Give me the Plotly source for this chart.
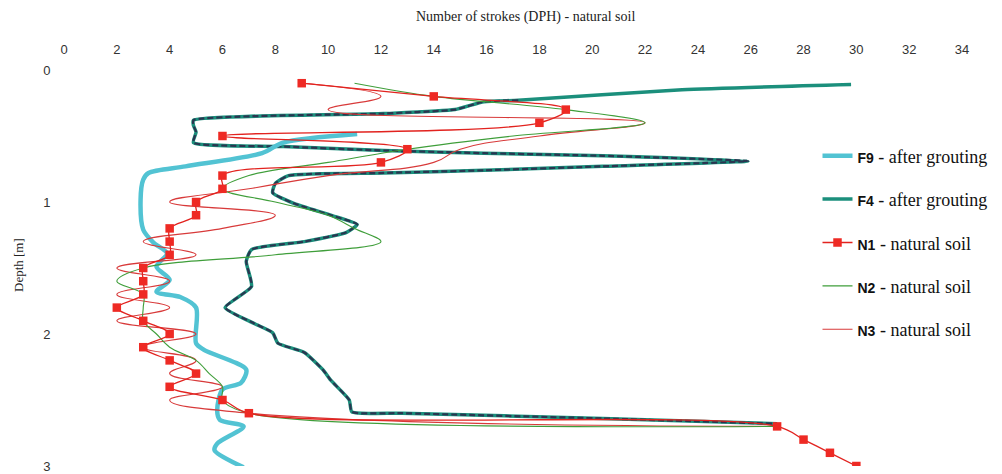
import plotly.graph_objects as go

# ---------------- data ----------------
# N1 - natural soil (markers every 0.1 m)
n1_depth = [0.1, 0.2, 0.3, 0.4, 0.5, 0.6, 0.7, 0.8, 0.9, 1.0, 1.1, 1.2, 1.3, 1.4, 1.5,
            1.6, 1.7, 1.8, 1.9, 2.0, 2.1, 2.2, 2.3, 2.4, 2.5, 2.6, 2.7, 2.8, 2.9, 3.0]
n1_strokes = [9, 14, 19, 18, 6, 13, 12, 6, 6, 5, 5, 4, 4, 4, 3,
              3, 3, 2, 3, 4, 3, 4, 5, 4, 6, 7, 27, 28, 29, 30]

# N2 - natural soil
n2_depth = [0.1, 0.2, 0.3, 0.4, 0.5, 0.6, 0.7, 0.8, 0.9, 1.0, 1.1, 1.2, 1.3, 1.4,
            1.5, 1.6, 1.7, 1.8, 1.9, 2.0, 2.1, 2.2, 2.3, 2.4, 2.5, 2.6, 2.7]
n2_strokes = [11, 14, 19, 22, 17, 13, 10, 7, 6, 8, 10, 11, 12, 8,
              3, 2, 3, 3, 3, 3.5, 4, 5, 5.5, 6, 6, 7, 27]

# N3 - natural soil
n3_depth = [0.1, 0.2, 0.3, 0.4, 0.5, 0.6, 0.7, 0.8, 0.9, 1.0, 1.1, 1.2, 1.3, 1.4,
            1.5, 1.6, 1.7, 1.8, 1.9, 2.0, 2.1, 2.2, 2.3, 2.4, 2.5, 2.6, 2.7]
n3_strokes = [9, 12, 10, 22, 18, 15, 14, 10, 7, 4, 8, 6, 3, 5,
              2, 4, 2, 4, 2, 5, 3, 5, 4, 6, 4, 7, 27]

# F4 - after grouting
f4_strokes = [29.8, 23.4, 17.2, 15.9, 14.8, 12.1, 4.9, 4.9, 5.0, 4.9, 8.3, 12.1, 15.9,
              20.4, 25.9, 20.4, 15.9, 12.1, 8.5, 8.0, 7.9, 8.7, 10.1, 11.1, 10.7, 9.1,
              7.1, 6.9, 7.1, 6.1, 7.2, 7.9, 8.1, 9.1, 9.8, 10.1, 10.8, 10.9, 12.8, 20.4, 27.0]
f4_depth = [0.11, 0.15, 0.23, 0.24, 0.30, 0.33, 0.38, 0.42, 0.47, 0.55, 0.58, 0.61, 0.63,
            0.65, 0.69, 0.73, 0.76, 0.78, 0.80, 0.86, 0.93, 1.01, 1.10, 1.17, 1.23, 1.30,
            1.36, 1.45, 1.64, 1.80, 1.92, 1.99, 2.07, 2.14, 2.27, 2.35, 2.50, 2.59, 2.60, 2.64, 2.68]

# F9 - after grouting
f9_strokes = [11.1, 8.3, 7.5, 4.6, 3.2, 3.0, 2.9, 3.0, 3.4, 3.9, 3.5, 4.0, 3.5, 4.4,
              5.0, 5.0, 5.3, 6.9, 6.7, 6.0, 5.8, 5.9, 6.8, 5.8, 5.7, 6.8]
f9_depth = [0.485, 0.55, 0.63, 0.73, 0.78, 0.83, 0.98, 1.21, 1.31, 1.39, 1.49, 1.59, 1.68, 1.72,
            1.80, 2.07, 2.12, 2.27, 2.37, 2.42, 2.58, 2.65, 2.70, 2.83, 2.88, 3.01]

x_ticks = list(range(0, 36, 2))
y_ticks = [0, 1, 2, 3]

SERIF = "Liberation Serif, Times New Roman, serif"
SANS = "Liberation Sans, Arial, sans-serif"


def lab(code, rest):
    return (f'<span style="font-family:{SANS};font-size:14px"><b>{code}</b></span>'
            f' - {rest}')


fig = go.Figure()

# F4 base (teal) + dark mottled overlay
fig.add_trace(go.Scatter(
    x=f4_strokes, y=f4_depth, mode="lines", name=lab("F4", "after grouting"),
    line=dict(color="#1b8f7c", width=3.5, shape="spline", smoothing=0.5),
    legendrank=2, legendgroup="f4"))
fig.add_trace(go.Scatter(
    x=f4_strokes[2:], y=f4_depth[2:], mode="lines", showlegend=False,
    line=dict(color="#2a3550", width=2.2, shape="spline", smoothing=0.5, dash="6px,3px"),
    hoverinfo="skip", legendgroup="f4"))

fig.add_trace(go.Scatter(
    x=f9_strokes, y=f9_depth, mode="lines", name=lab("F9", "after grouting"),
    line=dict(color="#52c3d3", width=4.5, shape="spline", smoothing=0.8),
    legendrank=1, legendgroup="f9"))

fig.add_trace(go.Scatter(
    x=n3_strokes, y=n3_depth, mode="lines", name=lab("N3", "natural soil"),
    line=dict(color="#d83a3a", width=1.1, shape="spline", smoothing=1.3),
    legendrank=5, legendgroup="n3"))

fig.add_trace(go.Scatter(
    x=n2_strokes, y=n2_depth, mode="lines", name=lab("N2", "natural soil"),
    line=dict(color="#3f9e3a", width=1.1, shape="spline", smoothing=1.0),
    legendrank=4, legendgroup="n2"))

fig.add_trace(go.Scatter(
    x=n1_strokes, y=n1_depth, mode="lines+markers", name=lab("N1", "natural soil"),
    line=dict(color="#e2231f", width=1.3, shape="spline", smoothing=1.0),
    marker=dict(symbol="square", size=8.5, color="#ee2a24"),
    legendrank=3, legendgroup="n1"))

# the page body has an 8px margin, so the figure is sized to fill the rest.
# The plot area runs to the right edge (so the legend stays inside it);
# the x range is widened so 0..34 keeps the reference's spacing.
W, H = 994, 466
L, R, T, B = 56, 0, 62, 8
pw, ph = W - L - R, H - T - B
X_MAX = 34 * pw / 898.0


def px_to_paper(xs, ys):
    # screen pixel -> paper coords (screen = figure + 8)
    return (xs - 8 - L) / pw, 1 - (ys - 8 - T) / ph


tx, ty = px_to_paper(525, 17)
dx, dy = px_to_paper(18, 265)
lx, ly = px_to_paper(817.5, 137.5)

fig.update_layout(
    width=W, height=H,
    margin=dict(l=L, r=R, t=T, b=B),
    paper_bgcolor="white", plot_bgcolor="white",
    showlegend=True,
    legend=dict(
        x=lx, y=ly, xanchor="left", yanchor="top",
        font=dict(family=SERIF, size=18, color="#111"),
        bgcolor="rgba(255,255,255,0)",
        tracegroupgap=17, traceorder="grouped",
        itemwidth=30,
    ),
    xaxis=dict(
        side="top", range=[0, X_MAX], tickvals=x_ticks, ticktext=[str(v) for v in x_ticks],
        showgrid=False, zeroline=False, showline=False,
        ticks="outside", ticklen=10, tickcolor="rgba(0,0,0,0)",
        tickfont=dict(family=SANS, size=13, color="#333"),
        automargin=False,
    ),
    yaxis=dict(
        range=[3.0, 0], tickvals=y_ticks, ticktext=[str(v) for v in y_ticks],
        showgrid=False, zeroline=False, showline=False,
        ticks="outside", ticklen=10, tickcolor="rgba(0,0,0,0)",
        tickfont=dict(family=SANS, size=13, color="#333"),
        automargin=False,
    ),
    annotations=[
        dict(text="Number of strokes (DPH) - natural soil", x=tx, y=ty,
             xref="paper", yref="paper", xanchor="center", yanchor="middle",
             showarrow=False, font=dict(family=SERIF, size=14, color="#222")),
        dict(text="Depth [m]", x=dx, y=dy, textangle=-90,
             xref="paper", yref="paper", xanchor="center", yanchor="middle",
             showarrow=False, font=dict(family=SERIF, size=13, color="#222")),
    ],
)

fig.write_html("out.html")
